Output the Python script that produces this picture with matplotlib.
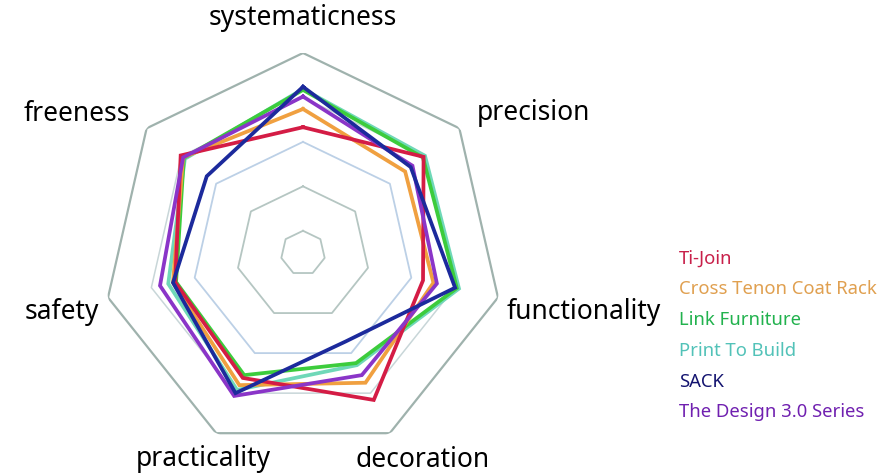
import numpy as np
import matplotlib.pyplot as plt

categories = ["systematicness", "precision", "functionality", "decoration",
              "practicality", "safety", "freeness"]
series_names = ["Ti-Join", "Cross Tenon Coat Rack", "Link Furniture",
                "Print To Build", "SACK", "The Design 3.0 Series"]
ti_join = [3.33, 3.97, 3.27, 4.17, 3.62, 3.45, 4.02]
cross_tenon = [3.74, 3.44, 3.51, 3.74, 3.80, 3.50, 3.95]
link_furniture = [4.17, 3.95, 4.05, 3.25, 3.55, 3.43, 3.93]
print_to_build = [4.19, 4.01, 4.10, 3.30, 3.92, 3.61, 3.90]
sack = [4.24, 3.60, 4.01, 2.71, 4.00, 3.50, 3.27]
design_30 = [4.02, 3.65, 3.59, 3.55, 4.07, 3.80, 3.95]
grid_levels = [1, 2, 3, 4, 5]

series = [ti_join, cross_tenon, link_furniture, print_to_build, sack, design_30]
colors = ["#d41c45", "#f0a040", "#3ccc3c", "#6fd8b8", "#1c2a9c", "#8a35c8"]
order = [3, 2, 1, 0, 5, 4]  # drawing order (navy on top)

plt.rcParams['font.family'] = ['Noto Sans', 'DejaVu Sans']
W, H = 886, 474
fig = plt.figure(figsize=(W / 100, H / 100), dpi=100)
cx, cy, R = 303, 253, 200
ax = fig.add_axes([(cx - R) / W, (H - cy - R) / H, 2 * R / W, 2 * R / H],
                  projection='polar')
ax.set_theta_offset(np.pi / 2)
ax.set_theta_direction(-1)
ax.set_ylim(0.5, 5)

n = len(categories)
angles = np.linspace(0, 2 * np.pi, n, endpoint=False)
ang_c = np.append(angles, angles[0])

# heptagon grid
ring_cols = ["#b5c6c2", "#b5c6c2", "#bcd0e6", "#c8d6d8", "#9fb2ad"]
ring_lw = [1.3, 1.3, 1.3, 1.1, 1.6]
for lev, c, lw in zip(grid_levels, ring_cols, ring_lw):
    ax.plot(ang_c, [lev] * (n + 1), color=c, lw=lw, zorder=1)

for i in order:
    vals = series[i] + series[i][:1]
    ax.plot(ang_c, vals, color=colors[i], lw=2.7, label=series_names[i],
            zorder=3 + order.index(i), solid_joinstyle='miter')

ax.grid(False)
ax.spines['polar'].set_visible(False)
ax.set_xticks([])
ax.set_yticks([])
ax.patch.set_alpha(0)

# axis labels
label_pos = [(303, 18), (533, 113), (584, 312), (423, 460),
             (203, 459), (62, 312), (77, 114)]
for name, (px, py) in zip(categories, label_pos):
    fig.text(px / W, 1 - py / H, name, fontsize=19, ha='center', va='center',
             color='black')

# legend: text only
handles, labels = ax.get_legend_handles_labels()
lookup = dict(zip(labels, handles))
leg = fig.legend([lookup[s] for s in series_names], series_names,
                 loc='upper left', bbox_to_anchor=(662 / W, 1 - 233 / H),
                 frameon=False, handlelength=0, handletextpad=0,
                 labelspacing=0.69, fontsize=13.3)
legend_cols = ["#c8204a", "#e0a050", "#22b24e", "#52c2b8", "#141470", "#7020b0"]
for t, c in zip(leg.get_texts(), legend_cols):
    t.set_color(c)
    t.set_fontweight('semibold')
for h in leg.legend_handles:
    h.set_visible(False)

fig.savefig("out.png", dpi=100)
